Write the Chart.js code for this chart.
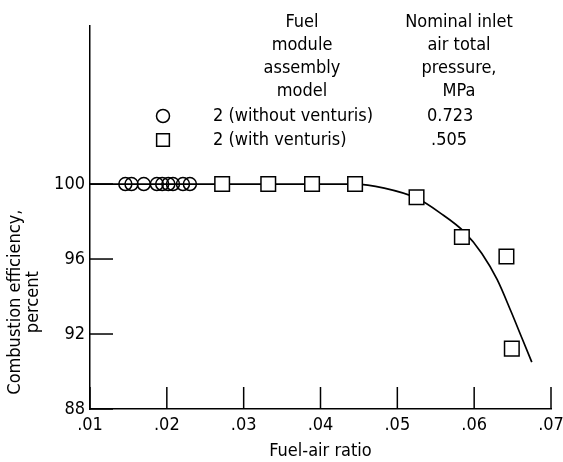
<!DOCTYPE html>
<html>
<head>
<meta charset="utf-8">
<script src="https://cdn.jsdelivr.net/npm/chart.js@4/dist/chart.umd.min.js"></script>
<style>
html,body{margin:0;padding:0;background:#fff;}
#wrap{width:563px;height:462px;position:relative;}
</style>
</head>
<body>
<div id="wrap"><canvas id="c" width="563" height="462"></canvas></div>
<script>
// ---- data ----
const withoutVenturisX = [0.0146, 0.0154, 0.0170, 0.0187, 0.0194, 0.0202, 0.0208, 0.0221, 0.0230];
const withoutVenturisY = [100, 100, 100, 100, 100, 100, 100, 100, 100];
const withVenturisX = [0.0272, 0.0332, 0.0389, 0.0445, 0.0525, 0.0584, 0.0642, 0.0649];
const withVenturisY = [100, 100, 100, 100, 99.3, 97.17, 96.13, 91.22];
const curveX = [0.0100, 0.0445, 0.0483, 0.0525, 0.0556, 0.0587, 0.0610, 0.0630, 0.0648, 0.0662, 0.0675];
const curveY = [100, 100, 99.78, 99.25, 98.45, 97.45, 96.3, 94.9, 93.2, 91.8, 90.5];
const yTickValues = [88, 92, 96, 100];
const xTickValues = [0.01, 0.02, 0.03, 0.04, 0.05, 0.06, 0.07];
const legendLabels = ['2 (without venturis)', '2 (with venturis)'];
const legendPressures = ['0.723', '.505'];
const headerCol1 = ['Fuel', 'module', 'assembly', 'model'];
const headerCol2 = ['Nominal inlet', 'air total', 'pressure,', 'MPa'];
const yTitle = ['Combustion efficiency,', 'percent'];
const xTitle = 'Fuel-air ratio';

const FONT = "'Liberation Sans Narrow', 'DejaVu Sans Condensed', 'Roboto Condensed', sans-serif";
const FS = 18;

const zip = (xs, ys) => xs.map((x, i) => ({x: x, y: ys[i]}));

const overlay = {
  id: 'overlay',
  beforeDatasetsDraw(chart) {
    const ctx = chart.ctx;
    const xs = chart.scales.x, ys = chart.scales.y;
    const ca = chart.chartArea;
    ctx.save();
    ctx.strokeStyle = '#000';
    ctx.lineWidth = 1.5;
    // inward tick marks
    yTickValues.forEach(v => {
      const py = ys.getPixelForValue(v);
      ctx.beginPath(); ctx.moveTo(ca.left, py); ctx.lineTo(ca.left + 23, py); ctx.stroke();
    });
    xTickValues.forEach(v => {
      const px = xs.getPixelForValue(v);
      ctx.beginPath(); ctx.moveTo(px, ca.bottom); ctx.lineTo(px, ca.bottom - 22); ctx.stroke();
    });
    ctx.restore();
  },
  afterDraw(chart) {
    const ctx = chart.ctx;
    const ys = chart.scales.y;
    ctx.save();
    ctx.fillStyle = '#000';
    ctx.font = FS + 'px ' + FONT;
    ctx.textBaseline = 'middle';
    ctx.textAlign = 'center';
    headerCol1.forEach((t, i) => ctx.fillText(t, 302, 22 + i * 23));
    headerCol2.forEach((t, i) => ctx.fillText(t, 459, 22 + i * 23));
    const rows = [116, 140];
    ctx.textAlign = 'left';
    legendLabels.forEach((t, i) => ctx.fillText(t, 213, rows[i]));
    ctx.fillText(legendPressures[0], 427, rows[0]);
    ctx.fillText(legendPressures[1], 431, rows[1]);
    // legend markers
    ctx.strokeStyle = '#000';
    ctx.lineWidth = 1.5;
    ctx.fillStyle = 'rgba(0,0,0,0)';
    Chart.helpers.drawPoint(ctx, {pointStyle: 'circle', radius: 6.5, rotation: 0, borderWidth: 1.5}, 163, rows[0]);
    ctx.fillStyle = '#fff';
    Chart.helpers.drawPoint(ctx, {pointStyle: 'rect', radius: 9, rotation: 0, borderWidth: 1.5}, 163, rows[1]);
    // y title
    ctx.fillStyle = '#000';
    const cy = ys.getPixelForValue(93.7);
    ctx.translate(0, cy);
    ctx.rotate(-Math.PI / 2);
    ctx.textAlign = 'center';
    ctx.fillText(yTitle[0], 0, 15);
    ctx.fillText(yTitle[1], 0, 33);
    ctx.restore();
  }
};

new Chart(document.getElementById('c'), {
  type: 'scatter',
  data: {
    datasets: [
      {
        label: 'curve',
        data: zip(curveX, curveY),
        showLine: true,
        borderColor: '#000',
        borderWidth: 1.7,
        pointRadius: 0,
        pointHoverRadius: 0,
        cubicInterpolationMode: 'monotone',
        order: 3
      },
      {
        label: legendLabels[0],
        data: zip(withoutVenturisX, withoutVenturisY),
        pointStyle: 'circle',
        pointRadius: 6.5,
        backgroundColor: 'rgba(0,0,0,0)',
        borderColor: '#000',
        borderWidth: 1.5,
        order: 2
      },
      {
        label: legendLabels[1],
        data: zip(withVenturisX, withVenturisY),
        pointStyle: 'rect',
        pointRadius: 10.3,
        backgroundColor: '#fff',
        borderColor: '#000',
        borderWidth: 1.5,
        order: 1
      }
    ]
  },
  options: {
    responsive: false,
    animation: false,
    devicePixelRatio: 1,
    layout: {padding: {top: 26, right: 12, left: 0, bottom: 0}},
    plugins: {legend: {display: false}, tooltip: {enabled: false}},
    scales: {
      x: {
        type: 'linear',
        min: 0.01, max: 0.07,
        afterBuildTicks: s => { s.ticks = xTickValues.map(v => ({value: v})); },
        afterFit: s => { s.height = 53; s.paddingLeft = 0; s.paddingRight = 0; },
        ticks: {
          color: '#000',
          font: {family: FONT, size: FS},
          padding: 6,
          maxRotation: 0,
          autoSkip: false,
          callback: v => '.' + Number(v).toFixed(2).split('.')[1]
        },
        grid: {display: false, drawTicks: false},
        border: {display: true, color: '#000', width: 1.5},
        title: {display: true, text: xTitle, color: '#000', font: {family: FONT, size: FS}, padding: {top: 0, bottom: 0}}
      },
      y: {
        type: 'linear',
        min: 88, max: 108.43,
        afterBuildTicks: s => { s.ticks = yTickValues.map(v => ({value: v})); },
        afterFit: s => { s.width = 90; s.paddingTop = 0; s.paddingBottom = 0; },
        ticks: {
          color: '#000',
          font: {family: FONT, size: FS},
          padding: 5,
          autoSkip: false
        },
        grid: {display: false, drawTicks: false},
        border: {display: true, color: '#000', width: 1.5}
      }
    }
  },
  plugins: [overlay]
});
</script>
</body>
</html>
